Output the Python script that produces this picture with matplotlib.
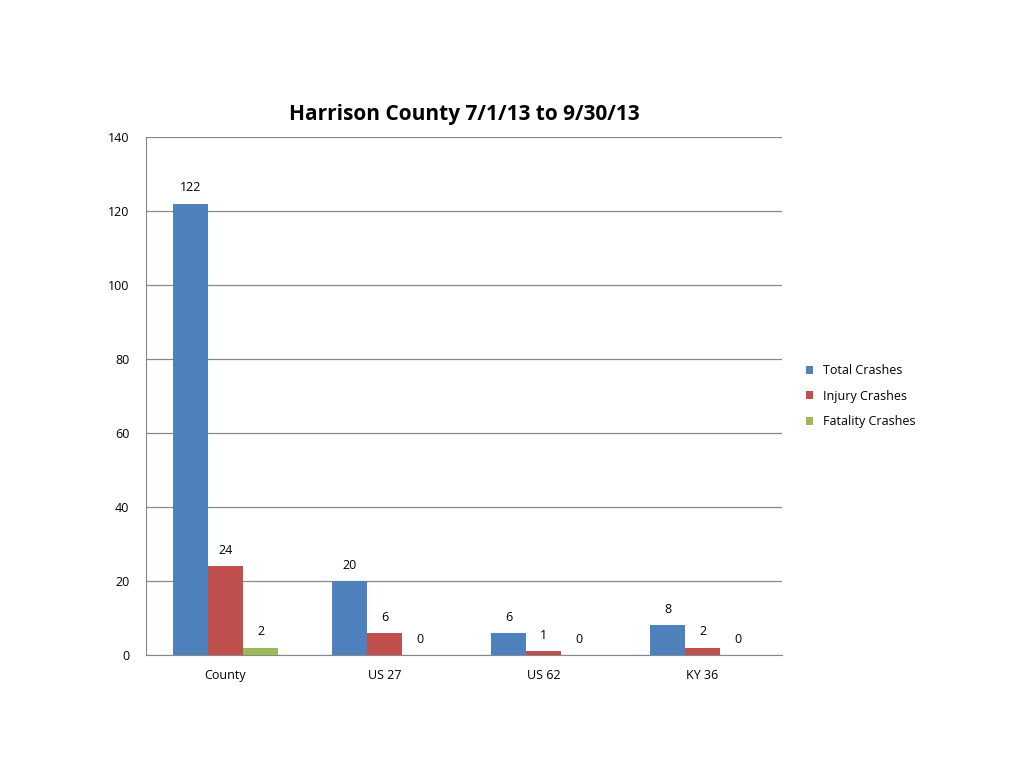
import numpy as np
import matplotlib.pyplot as plt

categories = ["County", "US 27", "US 62", "KY 36"]
series = ["Total Crashes", "Injury Crashes", "Fatality Crashes"]
total = [122, 20, 6, 8]
injury = [24, 6, 1, 2]
fatality = [2, 0, 0, 0]
colors = ["#4F81BD", "#C0504D", "#9BBB59"]

plt.rcParams["font.family"] = "Open Sans"
fig = plt.figure(figsize=(10.24, 7.68), dpi=100)
ax = fig.add_axes([0.1426, 0.1471, 0.6211, 0.6745])

x = np.arange(len(categories))
w = 0.22
for i, (vals, name) in enumerate(zip([total, injury, fatality], series)):
    bars = ax.bar(x + (i - 1) * w, vals, w, color=colors[i], label=name, zorder=3)
    for b, v in zip(bars, vals):
        ax.text(b.get_x() + b.get_width() / 2, v + 2.5, str(v),
                ha="center", va="bottom", fontsize=9)

ax.set_xlim(-0.5, 3.5)
ax.set_ylim(0, 140)
ax.set_yticks(range(0, 141, 20))
ax.set_xticks(x)
ax.set_xticklabels(categories, fontsize=9)
ax.tick_params(axis="y", labelsize=9, length=0, pad=12)
ax.tick_params(axis="x", length=0, pad=10)
ax.grid(axis="y", color="#888888", linewidth=0.9, zorder=0)
for s in ["top", "right"]:
    ax.spines[s].set_visible(False)
for s in ["left", "bottom"]:
    ax.spines[s].set_color("#888888")

ax.set_title("Harrison County 7/1/13 to 9/30/13", fontsize=15, fontweight="bold", pad=12)
ax.legend(loc="center left", bbox_to_anchor=(1.02, 0.5), frameon=False,
          fontsize=9, handlelength=0.6, handleheight=0.6, labelspacing=1.0)

fig.savefig("out.png", dpi=100)
